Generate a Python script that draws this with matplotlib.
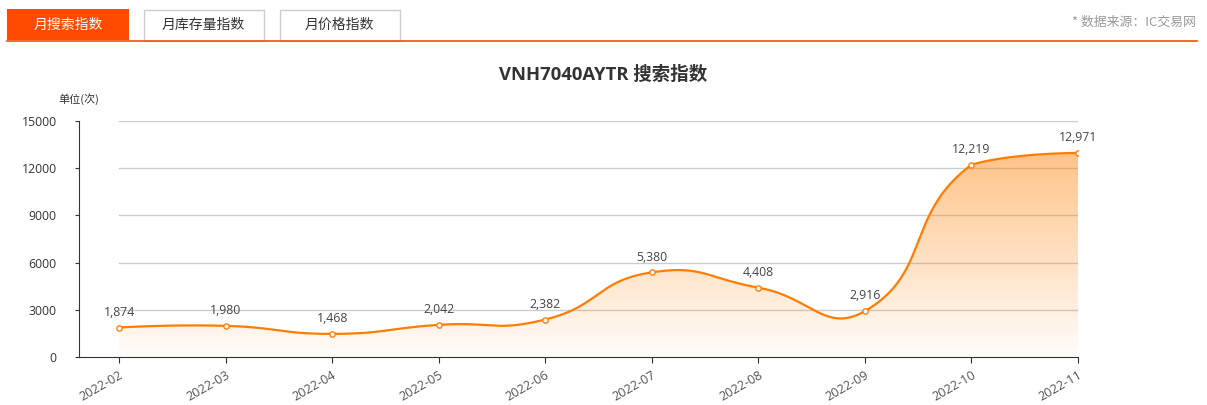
import numpy as np
import matplotlib
matplotlib.use("Agg")
import matplotlib.pyplot as plt
from matplotlib.patches import Rectangle, Polygon

plt.rcParams['font.family'] = ['Open Sans', 'Noto Sans CJK SC', 'DejaVu Sans']

# ---- data ----
months = ["2022-02", "2022-03", "2022-04", "2022-05", "2022-06",
          "2022-07", "2022-08", "2022-09", "2022-10", "2022-11"]
search_index = [1874, 1980, 1468, 2042, 2382, 5380, 4408, 2916, 12219, 12971]
y_ticks = [0, 3000, 6000, 9000, 12000, 15000]
tabs = ["月搜索指数", "月库存量指数", "月价格指数"]
title = "VNH7040AYTR 搜索指数"
unit_label = "单位(次)"
source_note = "* 数据来源：IC交易网"

ORANGE = "#ff7f0e"
LINE = "#ff7d00"
TAB_ORANGE = "#ff4a00"
CJK = ['Noto Sans CJK SC', 'DejaVu Sans']

W, H, DPI = 1207, 405, 100
fig = plt.figure(figsize=(W / DPI, H / DPI), dpi=DPI)

# ---- header overlay (pixel coordinates) ----
bg = fig.add_axes([0, 0, 1, 1])
bg.set_xlim(0, W)
bg.set_ylim(H, 0)
bg.axis("off")
tab_spans = [(7, 129), (143, 264), (279, 400)]
for i, (label, (x0, x1)) in enumerate(zip(tabs, tab_spans)):
    if i == 0:
        bg.add_patch(Rectangle((x0, 9), x1 - x0, 31, facecolor=TAB_ORANGE,
                               edgecolor=TAB_ORANGE, lw=0))
        color = "white"
    else:
        bg.add_patch(Rectangle((x0 + 0.5, 9.5), x1 - x0 - 1, 31,
                               facecolor="white", edgecolor="#cccccc", lw=1))
        color = "#333333"
    bg.text((x0 + x1) / 2, 25, label, ha="center", va="center",
            fontsize=10, color=color, family=CJK)
bg.plot([7, 1197], [40.5, 40.5], color=TAB_ORANGE, lw=1.2)
bg.text(1196, 22, source_note, ha="right", va="center", fontsize=9.3,
        color="#999999", family=CJK)
bg.text(603, 75, title, ha="center", va="center", fontsize=13.3,
        fontweight="bold", color="#333333")
bg.text(79, 99, unit_label, ha="center", va="center", fontsize=8,
        color="#333333", family=CJK)

# ---- chart axes ----
x_left_px, x_first_px, x_last_px = 79, 119, 1078
y0_px, ytop_px = 357, 121
step_px = (x_last_px - x_first_px) / (len(months) - 1)
ax = fig.add_axes([x_left_px / W, 1 - y0_px / H,
                   (x_last_px - x_left_px) / W, (y0_px - ytop_px) / H])
ax.patch.set_alpha(0)
xmin = -(x_first_px - x_left_px) / step_px
xmax = len(months) - 1
ax.set_xlim(xmin, xmax)
ax.set_ylim(0, 15000)
ypx_per_unit = (y0_px - ytop_px) / 15000

# smoothed line: bezier control points computed in pixel space and clamped
# to the bounding box of the data points
xs = np.arange(len(search_index), dtype=float)
px = xs * step_px
py = np.array(search_index, dtype=float) * ypx_per_unit
lo = np.array([px.min(), py.min()])
hi = np.array([px.max(), py.max()])
smooth = 0.5
n = len(px)
cp_out = [None] * n
cp_in = [None] * n
for i in range(n):
    p = np.array([px[i], py[i]])
    if i == 0 or i == n - 1:
        cp_out[i] = p.copy()
        cp_in[i] = p.copy()
        continue
    prev = np.array([px[i - 1], py[i - 1]])
    nxt = np.array([px[i + 1], py[i + 1]])
    v = nxt - prev
    lp = np.linalg.norm(p - prev)
    ln = np.linalg.norm(nxt - p)
    r = ln / (ln + lp)
    cp_out[i] = np.clip(p + v * smooth * r, lo, hi)
    cp_in[i] = np.clip(p - v * smooth * (1 - r), lo, hi)

cx, cy = [], []
t = np.linspace(0, 1, 80)
for i in range(n - 1):
    p0 = np.array([px[i], py[i]])
    p1 = cp_out[i]
    p2 = cp_in[i + 1]
    p3 = np.array([px[i + 1], py[i + 1]])
    pts = ((1 - t) ** 3)[:, None] * p0 + (3 * (1 - t) ** 2 * t)[:, None] * p1 \
        + (3 * (1 - t) * t ** 2)[:, None] * p2 + (t ** 3)[:, None] * p3
    if i > 0:
        pts = pts[1:]
    cx.extend(pts[:, 0])
    cy.extend(pts[:, 1])
cx = np.array(cx) / step_px
cy = np.array(cy) / ypx_per_unit

# gradient area under the curve
ymax = max(search_index)
grad = np.linspace(0, 1, 256)[:, None]
rgba = np.zeros((256, 1, 4))
rgba[..., 0] = 1.0
rgba[..., 1] = 0.50
rgba[..., 2] = 0.0
rgba[..., 3] = 0.02 + 0.45 * grad
img = ax.imshow(rgba, extent=[0, xmax, 0, ymax], origin="lower",
                aspect="auto", zorder=1, interpolation="bilinear")
poly = Polygon(np.column_stack([np.r_[cx, xmax, 0], np.r_[cy, 0, 0]]),
               closed=True, facecolor="none", edgecolor="none")
ax.add_patch(poly)
img.set_clip_path(poly)
ax.set_xlim(xmin, xmax)
ax.set_ylim(0, 15000)

# grid lines
for yv in y_ticks[1:]:
    ax.plot([0, xmax], [yv, yv], color="#cccccc", lw=1, zorder=0.5)

ax.plot(cx, cy, color=LINE, lw=1.6, zorder=3, solid_capstyle="round")
ax.plot(xs, search_index, linestyle="none", marker="o", markersize=3.8,
        markerfacecolor="white", markeredgecolor=ORANGE, markeredgewidth=1,
        zorder=4)
for xv, yv in zip(xs, search_index):
    ax.annotate(f"{yv:,}", (xv, yv), xytext=(0, 11), textcoords="offset points",
                ha="center", va="center", fontsize=8.8, color="#444444",
                zorder=5)

for side in ("top", "right"):
    ax.spines[side].set_visible(False)
ax.spines["left"].set_color("#333333")
ax.spines["bottom"].set_color("#333333")
ax.set_yticks(y_ticks)
ax.set_yticklabels([str(v) for v in y_ticks])
ax.tick_params(axis="y", length=3, color="#333333", labelcolor="#333333",
               labelsize=8.8, pad=13)
ax.set_xticks(xs)
ax.set_xticklabels(months, rotation=30, ha="right", rotation_mode="anchor")
ax.tick_params(axis="x", length=4, color="#333333", labelcolor="#555555",
               labelsize=9.2, pad=4)

fig.savefig("out.png", dpi=DPI)
